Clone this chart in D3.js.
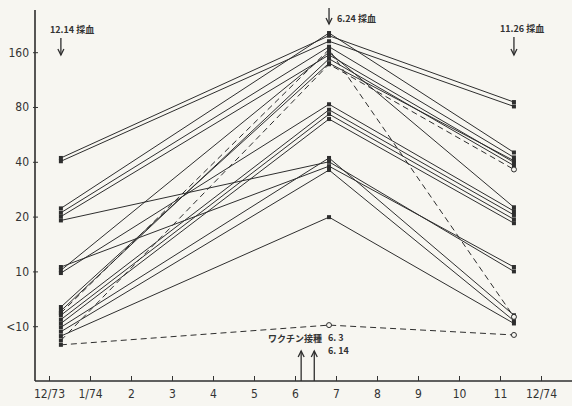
<!DOCTYPE html>
<html>
<head>
<meta charset="utf-8">
<script src="https://cdn.jsdelivr.net/npm/d3@7"></script>
<style>
  body { margin: 0; background: #f7f6f1; }
  svg { display: block; }
  .tick text { font-family: "DejaVu Sans Condensed", "DejaVu Sans", sans-serif; font-size: 12px; fill: #333; }
  .tick line { stroke: #333; }
  .note { font-family: "Noto Sans CJK JP", sans-serif; font-size: 9px; font-weight: bold; fill: #333; }
</style>
</head>
<body>
<svg id="chart"></svg>
<script>
// titer levels: 0 = <10, 1 = 10, 2 = 20, 3 = 40, 4 = 80, 5 = 160
const yTickLabels = ["<10", "10", "20", "40", "80", "160"];
// months: 0 = 12/73, 1 = 1/74 ... 12 = 12/74
const xTickLabels = ["12/73", "1/74", "2", "3", "4", "5", "6", "7", "8", "9", "10", "11", "12/74"];
// sampling dates on the month axis (12.14, 6.24, 11.26 as drawn)
const sampleX = [0.29, 6.83, 11.34];

// one array per sampling, same subject order (small
// offsets are the stacked points of the original)
const first = [3.07, 3.01, 2.15, 2.07, 2.00, 1.93, 1.08, 1.02, 0.97, 0.35, 0.28, 0.20, 0.12, 0.05, -0.02, -0.10, -0.18, 0.24, -0.26, -0.34];
const second = [5.30, 5.20, 5.35, 5.10, 4.95, 3.00, 2.92, 5.00, 4.05, 4.80, 4.88, 3.95, 3.87, 3.78, 3.07, 2.85, 1.99, 5.05, 4.78, 0.02];
const third = [4.09, 4.01, 3.17, 3.08, 2.99, 1.00, 1.08, 2.17, 2.10, 3.02, 2.93, 2.03, 1.95, 1.88, 0.20, 0.10, 0.05, 0.17, 2.86, -0.16];
const dashed = [false, false, false, false, false, false, false, false, false, false, false, false, false, false, false, false, false, true, true, true];
// open (hollow) markers per sampling
const openMid = [false, false, false, false, false, false, false, false, false, false, false, false, false, false, false, false, false, false, false, true];
const openLast = [false, false, false, false, false, false, false, false, false, false, false, false, false, false, false, false, false, true, true, true];

const width = 572, height = 406;
const svg = d3.select("#chart").attr("width", width).attr("height", height);

const x = d3.scaleLinear().domain([0, 12]).range([49, 541]);
const y = d3.scaleLinear().domain([-1, 5.77]).range([381, 10]);

const ink = "#2e2e2e";

// axis lines
svg.append("line").attr("x1", 35).attr("x2", 35).attr("y1", y(5.77)).attr("y2", y(-1))
  .attr("stroke", ink).attr("stroke-width", 1.6);
svg.append("line").attr("x1", 35).attr("x2", width).attr("y1", y(-1)).attr("y2", y(-1))
  .attr("stroke", ink).attr("stroke-width", 1.6);

// y axis ticks
const yAxis = svg.append("g").attr("transform", "translate(38,0)")
  .call(d3.axisLeft(y).tickValues(d3.range(6)).tickFormat((d) => yTickLabels[d]).tickSize(5).tickPadding(4));
yAxis.select(".domain").remove();

// x axis ticks (upward)
const xAxis = svg.append("g").attr("transform", `translate(0,${y(-1)})`)
  .call(d3.axisBottom(x).tickValues(d3.range(13)).tickFormat((d) => xTickLabels[d]).tickSizeInner(-5).tickSizeOuter(0).tickPadding(8));
xAxis.select(".domain").remove();

// subjects
const subjects = first.map((v, i) => ({
  values: [v, second[i], third[i]],
  dashed: dashed[i],
  open: [false, openMid[i], openLast[i]],
}));

const line = d3.line().x((d, i) => x(sampleX[i])).y((d) => y(d));

svg.append("g").selectAll("path").data(subjects).join("path")
  .attr("d", (d) => line(d.values))
  .attr("fill", "none")
  .attr("stroke", ink)
  .attr("stroke-width", 1)
  .attr("stroke-dasharray", (d) => (d.dashed ? "6,4" : null));

// markers
const marks = subjects.flatMap((s) => s.values.map((v, i) => ({ v, i, open: s.open[i] })));
svg.append("g").selectAll("rect").data(marks.filter((d) => !d.open)).join("rect")
  .attr("x", (d) => x(sampleX[d.i]) - 2)
  .attr("y", (d) => y(d.v) - 2)
  .attr("width", 4).attr("height", 4)
  .attr("fill", ink);
svg.append("g").selectAll("circle").data(marks.filter((d) => d.open)).join("circle")
  .attr("cx", (d) => x(sampleX[d.i]))
  .attr("cy", (d) => y(d.v))
  .attr("r", 2.5)
  .attr("fill", "#f7f6f1")
  .attr("stroke", ink);

// annotations: blood sampling arrows
function arrow(xp, y1, y2) {
  svg.append("line").attr("x1", xp).attr("x2", xp).attr("y1", y1).attr("y2", y2)
    .attr("stroke", ink).attr("stroke-width", 1.3);
  const dir = y2 > y1 ? -1 : 1;
  svg.append("path")
    .attr("d", `M${xp - 3},${y2 + dir * 6}L${xp},${y2}L${xp + 3},${y2 + dir * 6}`)
    .attr("fill", "none").attr("stroke", ink).attr("stroke-width", 1.3);
}
arrow(x(sampleX[0]), 38, 55);
svg.append("text").attr("class", "note").attr("x", 50).attr("y", 33).text("12.14 採血");
arrow(x(sampleX[1]), 8, 24);
svg.append("text").attr("class", "note").attr("x", 337).attr("y", 22).text("6.24 採血");
arrow(x(sampleX[2]), 37, 55);
svg.append("text").attr("class", "note").attr("x", 500).attr("y", 32).text("11.26 採血");

// vaccination arrows
arrow(x(6.15), y(-1), 351);
arrow(x(6.47), y(-1), 351);
svg.append("text").attr("class", "note").attr("x", 268).attr("y", 342).text("ワクチン接種");
svg.append("text").attr("class", "note").attr("x", 328).attr("y", 341).text("6. 3");
svg.append("text").attr("class", "note").attr("x", 328).attr("y", 354).text("6. 14");
</script>
</body>
</html>
